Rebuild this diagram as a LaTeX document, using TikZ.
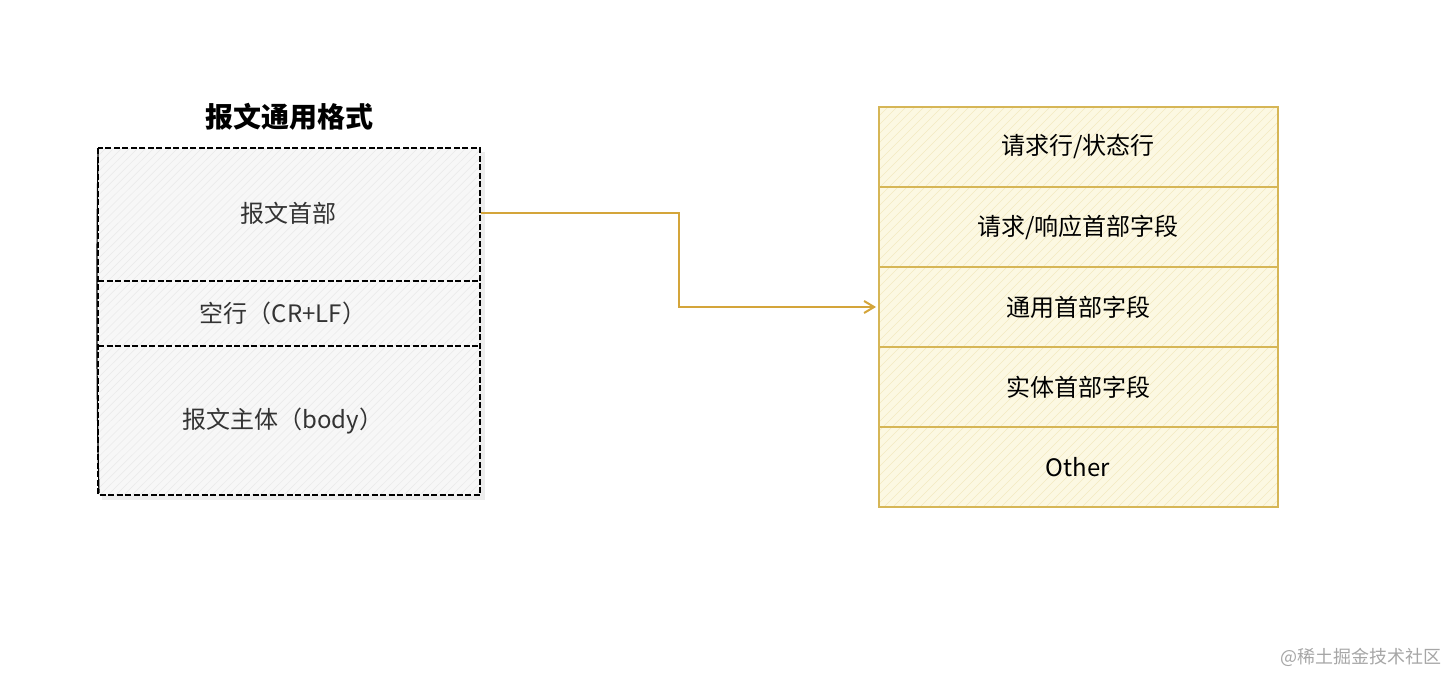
\documentclass[tikz,border=0pt]{standalone}
\usepackage{fontspec}
\setmainfont{Noto Sans CJK SC}
\newfontfamily\cjk{Noto Sans CJK SC}
\usetikzlibrary{arrows.meta}
\definecolor{ystroke}{HTML}{D6B656}
\definecolor{yfill}{HTML}{FCF8E2}
\definecolor{yhatch}{HTML}{F3EAC0}
\definecolor{gfill}{HTML}{F7F7F7}
\definecolor{ghatch}{HTML}{E9E9E9}
\definecolor{arrowc}{HTML}{D4A53A}
\definecolor{txt}{HTML}{333333}
\tikzset{
  x=1pt, y=-1pt,
  lefttxt/.style={font=\fontsize{24}{28}\selectfont, text=txt, inner sep=0},
  righttxt/.style={font=\fontsize{24}{28}\selectfont, text=black, inner sep=0},
  dashline/.style={draw=black, line width=1.6pt, dash pattern=on 6pt off 2.5pt},
  ybox/.style={draw=ystroke, line width=1.5pt},
}
\begin{document}
\begin{tikzpicture}
\useasboundingbox (0,0) rectangle (1448,674);
% left box shadow and fill
\fill[black!7] (102,152) rectangle (485,500);
\fill[gfill] (98,148) rectangle (480,495);
\begin{scope}
\clip (98,148) rectangle (480,495);
\foreach \i in {0,8,...,760} {\draw[ghatch, line width=0.5pt] (98+\i-350,495) -- (98+\i,148);}
\end{scope}
\draw[dashline] (98,148) rectangle (480,495);
\draw[black, line width=1.2pt] (98,150) .. controls (96,300) and (97,420) .. (99,493);
\coordinate (l1a) at (98,281); \coordinate (l1b) at (480,281);
\coordinate (l2a) at (98,346); \coordinate (l2b) at (480,346);
\draw[dashline] (l1a) -- (l1b);
\draw[dashline] (l2a) -- (l2b);
\node (title) at (289,117) {\fontsize{28}{32}\selectfont\bfseries 报文通用格式};
\node[lefttxt] (head) at (288,213) {报文首部};
\node[lefttxt] (blank) at (283,313) {空行（CR+LF）};
\node[lefttxt] (body) at (283,421) {报文主体（body）};
% right box
\fill[yfill] (879,107) rectangle (1278,507);
\begin{scope}
\clip (879,107) rectangle (1278,507);
\foreach \i in {0,9,...,820} {\draw[yhatch, line width=0.5pt] (879+\i-400,507) -- (879+\i,107);}
\end{scope}
\draw[ybox] (879,107) rectangle (1278,507);
\foreach \yy in {187,267,347,427} {\draw[ybox] (879,\yy) -- (1278,\yy);}
\node[righttxt] (r1) at (1078,147) {请求行/状态行};
\node[righttxt] (r2) at (1078,227) {请求/响应首部字段};
\node[righttxt] (r3) at (1078,307) {通用首部字段};
\node[righttxt] (r4) at (1078,387) {实体首部字段};
\node[righttxt] (r5) at (1078,467) {Other};
% connector
\coordinate (src) at (481,213);
\coordinate (dst) at (876,307);
\coordinate (bend) at (679,213);
\draw[arrowc, line width=2pt, -{Straight Barb[length=10pt,width=12pt]}]
  (src) -- (bend) -- (679,307) -- (dst);
% watermark
\node[text=black!35, font=\fontsize{18}{21}\selectfont, inner sep=0] (wm) at (1361,657) {@稀土掘金技术社区};
\end{tikzpicture}
\end{document}
